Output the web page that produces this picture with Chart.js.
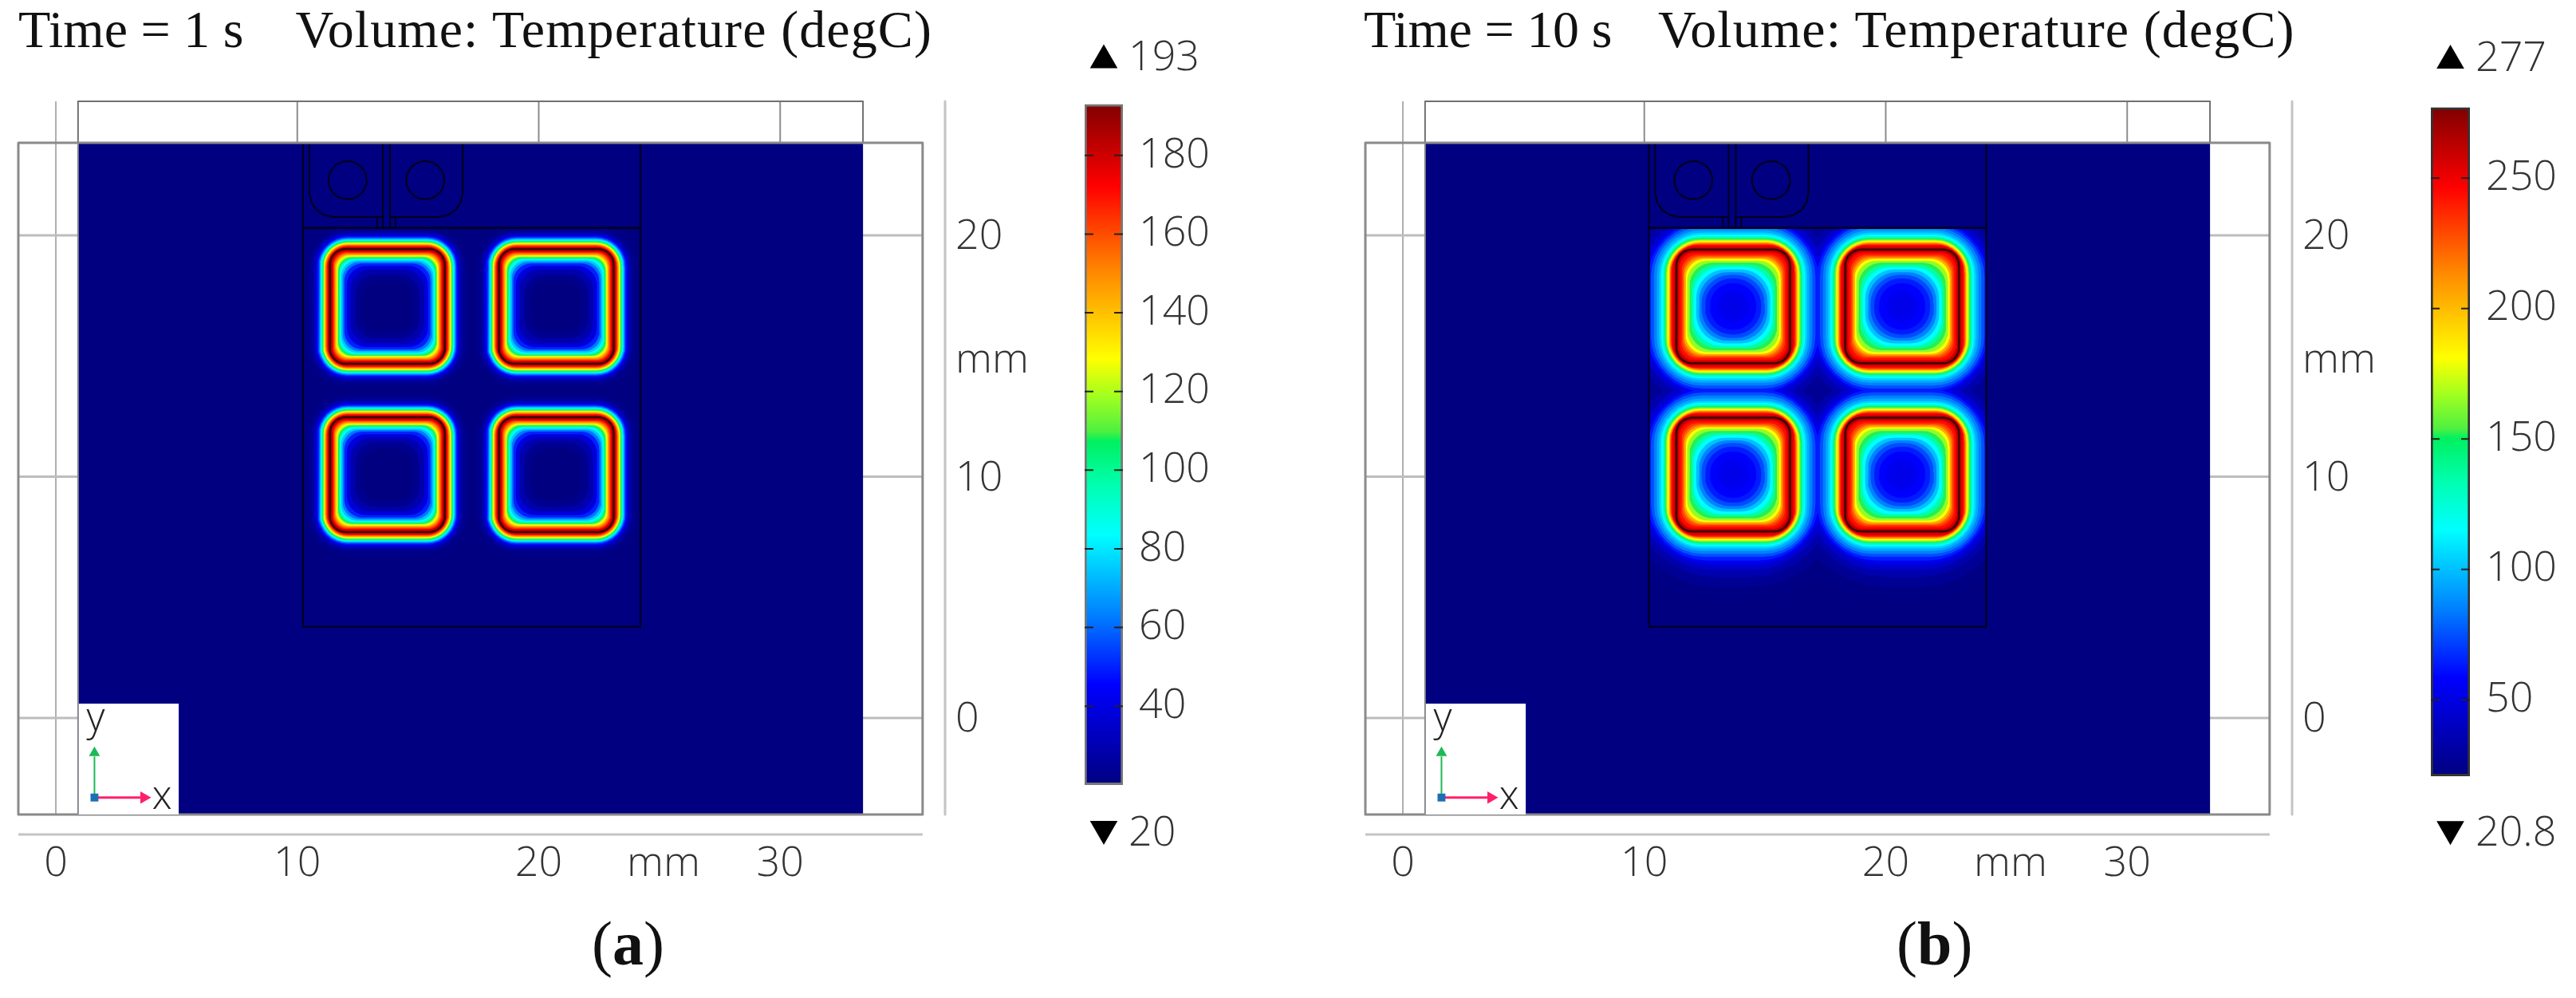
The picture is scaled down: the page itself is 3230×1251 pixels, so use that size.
<!DOCTYPE html>
<html>
<head>
<meta charset="utf-8">
<title>Temperature maps</title>
<script src="https://cdn.jsdelivr.net/npm/chart.js@4/dist/chart.umd.js"></script>
<style>
html, body { margin: 0; padding: 0; background: #fff; }
body { position: relative; width: 3230px; height: 1251px; overflow: hidden; }
canvas { position: absolute; top: 0; }
.head { position: absolute; top: 0; font: 66px "Liberation Serif", serif; color: #111; white-space: pre; line-height: 74px; }
.head span { letter-spacing: 1.1px; }
.cap { position: absolute; top: 1138px; font: 78px "Liberation Serif", serif; color: #111; line-height: 90px; }
</style>
</head>
<body>
<div class="head" style="left:23px">Time = 1 s<span style="margin-left:65px">Volume: Temperature (degC)</span></div>
<div class="head" style="left:1710px;letter-spacing:-0.4px">Time = 10 s<span style="margin-left:58px">Volume: Temperature (degC)</span></div>
<div class="cap" style="left:742px">(<b>a</b>)</div>
<div class="cap" style="left:2378px">(<b>b</b>)</div>
<canvas id="field_a" width="1330" height="1140" style="left:0"></canvas>
<canvas id="field_b" width="1330" height="1140" style="left:1689px"></canvas>
<canvas id="bar_a" width="300" height="1120" style="left:1340px"></canvas>
<canvas id="bar_b" width="202" height="1120" style="left:3028px"></canvas>
<script>
// axes of the two maps, in mm
var xTickValues = [0, 10, 20, 25.17, 30];
var xTickLabels = ['0', '10', '20', 'mm', '30'];
var yTickValues = [0, 10, 14.9, 20];
var yTickLabels = ['0', '10', 'mm', '20'];

// colour bars
var barTicksA = [40, 60, 80, 100, 120, 140, 160, 180];
var barTicksB = [50, 100, 150, 200, 250];
var rangeA = [20, 193];
var rangeB = [20.8, 277];

// colour table, position along the bar
var mapStops = [0, 0.147, 0.25, 0.368, 0.44, 0.505, 0.52, 0.57, 0.626, 0.75, 0.88, 1];
var mapColors = ['#000080', '#0000ff', '#0080ff', '#00ffff', '#00ffb0', '#00f060', '#50f040', '#a0ff20', '#ffff00', '#ff8c00', '#ff0000', '#800000'];

// coil centres, mm
var coilX = [13.73, 20.73];
var coilY = [17.05, 10.08];

// isotherms around one coil, panel a: half size (mm), corner radius (mm), degC
var outerHalfA = [3.38, 3.25, 3.12, 3.03, 2.96, 2.91, 2.86, 2.82, 2.79, 2.75, 2.72, 2.69, 2.66, 2.63, 2.60, 2.57, 2.54, 2.51, 2.47, 2.44, 2.41];
var outerRadA = [1.7, 1.6, 1.45, 1.35, 1.3, 1.25, 1.2, 1.17, 1.14, 1.1, 1.07, 1.04, 1.01, 0.98, 0.95, 0.92, 0.89, 0.86, 0.8, 0.75, 0.7];
var outerTempA = [21, 23, 27, 33, 40, 48, 58, 68, 78, 88, 98, 108, 118, 128, 138, 148, 158, 168, 178, 186, 192];
var innerHalfA = [2.38, 2.35, 2.32, 2.28, 2.25, 2.21, 2.17, 2.13, 2.10, 2.07, 2.04, 2.00, 1.96, 1.91, 1.85, 1.78, 1.68, 1.53, 1.33, 1.08];
var innerRadA = [0.65, 0.62, 0.6, 0.58, 0.56, 0.55, 0.55, 0.55, 0.55, 0.56, 0.58, 0.6, 0.62, 0.66, 0.7, 0.74, 0.8, 0.85, 0.85, 0.8];
var innerTempA = [193, 188, 182, 172, 165, 155, 145, 135, 127, 118, 108, 96, 86, 74, 62, 50, 38, 29, 23, 20];

// same for panel b
var outerHalfB = [5.16, 4.66, 4.26, 3.96, 3.71, 3.56, 3.41, 3.28, 3.16, 3.06, 2.98, 2.91, 2.85, 2.80, 2.76, 2.72, 2.68, 2.64, 2.60, 2.56, 2.52, 2.47, 2.41];
var outerRadB = [4.4, 4.0, 3.6, 3.2, 2.8, 2.5, 2.2, 2.0, 1.85, 1.75, 1.65, 1.55, 1.5, 1.45, 1.4, 1.35, 1.3, 1.25, 1.2, 1.1, 1.0, 0.9, 0.75];
var outerTempB = [22, 27, 34, 44, 54, 64, 75, 85, 95, 105, 115, 128, 142, 155, 168, 181, 195, 213, 230, 243, 250, 258, 270];
var innerHalfB = [2.36, 2.31, 2.26, 2.21, 2.14, 2.08, 2.03, 1.97, 1.90, 1.81, 1.73, 1.64, 1.53, 1.42, 1.31, 1.16, 0.96, 0.66, 0.36];
var innerRadB = [0.65, 0.65, 0.65, 0.65, 0.68, 0.72, 0.76, 0.8, 0.85, 0.95, 1.05, 1.15, 1.2, 1.2, 1.2, 1.1, 0.93, 0.65, 0.36];
var innerTempB = [277, 262, 250, 243, 232, 220, 205, 181, 165, 152, 135, 115, 100, 85, 74, 64, 58, 54, 52];

// quarter circle used for every rounded corner
var arcCos = [1, 0.981, 0.924, 0.831, 0.707, 0.556, 0.383, 0.195, 0];
var arcSin = [0, 0.195, 0.383, 0.556, 0.707, 0.831, 0.924, 0.981, 1];

// model outline, mm
var frameBox = [-1.553, 35.9, -4, 23.83];
var fieldBox = [0.92, 33.43, -4, 23.83];
var topBox = [0.92, 33.43, 23.83, 25.55];
var blockBox = [10.24, 24.21, 3.77, 20.3];
var triadBox = [0.95, 5.09, -4, 0.59];
var termLeft = [[10.5, 23.83], [10.5, 21.76], [10.57, 21.38], [10.79, 21.05], [11.12, 20.83], [11.5, 20.76], [13.54, 20.76], [13.54, 23.83]];
var termRight = [[13.84, 23.83], [13.84, 20.76], [15.85, 20.76], [16.23, 20.83], [16.56, 21.05], [16.78, 21.38], [16.85, 21.76], [16.85, 23.83]];
var stubs = [[[13.31, 20.76], [13.31, 20.3]], [[13.54, 20.76], [13.54, 20.3]], [[13.84, 20.76], [13.84, 20.3]], [[14.07, 20.76], [14.07, 20.3]]];
var holeX = [12.08, 15.3];
var holeY = 22.28;
var holeR = 0.79;

function colorAt(frac) {
    var i = 1;
    frac = Math.max(0, Math.min(1, frac));
    while (i < mapStops.length - 1 && mapStops[i] < frac) i++;
    var t = (frac - mapStops[i - 1]) / (mapStops[i] - mapStops[i - 1]);
    var a = parseInt(mapColors[i - 1].slice(1), 16);
    var b = parseInt(mapColors[i].slice(1), 16);
    var r = Math.round((a >> 16) + ((b >> 16) - (a >> 16)) * t);
    var g = Math.round(((a >> 8) & 255) + (((b >> 8) & 255) - ((a >> 8) & 255)) * t);
    var bl = Math.round((a & 255) + ((b & 255) - (a & 255)) * t);
    return 'rgb(' + r + ',' + g + ',' + bl + ')';
}

function roundedSquare(cx, cy, half, rad) {
    var pts = [], i;
    var inner = half - rad;
    for (i = 0; i < 9; i++) pts.push({x: cx + inner + rad * arcCos[i], y: cy + inner + rad * arcSin[i]});
    for (i = 0; i < 9; i++) pts.push({x: cx - inner - rad * arcSin[i], y: cy + inner + rad * arcCos[i]});
    for (i = 0; i < 9; i++) pts.push({x: cx - inner - rad * arcCos[i], y: cy - inner - rad * arcSin[i]});
    for (i = 0; i < 9; i++) pts.push({x: cx + inner + rad * arcSin[i], y: cy - inner - rad * arcCos[i]});
    pts.push(pts[0]);
    return pts;
}

function rectPts(b) {
    return [{x: b[0], y: b[2]}, {x: b[1], y: b[2]}, {x: b[1], y: b[3]}, {x: b[0], y: b[3]}, {x: b[0], y: b[2]}];
}

function toPts(list, dx) {
    return list.map(function (p) { return {x: p[0] + dx, y: p[1]}; });
}

function shape(pts, color) {
    return {type: 'scatter', showLine: true, data: pts, fill: 'shape', backgroundColor: color, borderWidth: 0, pointRadius: 0};
}

function line(pts, color, width) {
    return {type: 'scatter', showLine: true, data: pts, fill: false, borderColor: color, borderWidth: width, pointRadius: 0, borderJoinStyle: 'round', clip: false};
}

function buildField(iso, range, dx) {
    var out = [];
    var navy = '#000080';
    var i, k, n;
    var span = range[1] - range[0];

    // grid and axis lines
    out.push(line([{x: xTickValues[0], y: frameBox[2]}, {x: xTickValues[0], y: topBox[3]}], '#b0b0b0', 2));
    for (i = 1; i < xTickValues.length; i++) {
        if (xTickLabels[i] === 'mm') continue;
        out.push(line([{x: xTickValues[i], y: frameBox[3]}, {x: xTickValues[i], y: topBox[3]}], '#8c8c8c', 2));
    }
    for (i = 0; i < yTickValues.length; i++) {
        if (yTickLabels[i] === 'mm') continue;
        out.push(line([{x: frameBox[0], y: yTickValues[i]}, {x: frameBox[1], y: yTickValues[i]}], '#bdbdbd', 3));
    }
    out.push(line([{x: 36.83, y: topBox[3]}, {x: 36.83, y: -4}], '#c4c4c4', 3));
    out.push(line([{x: frameBox[0], y: -4.83}, {x: frameBox[1], y: -4.83}], '#c4c4c4', 3));
    out.push(line(rectPts(topBox), '#707070', 2));

    out.push(shape(rectPts(fieldBox), navy));

    // outer isotherms of all four coils together, coolest first
    for (i = 0; i < iso.outerHalf.length; i++) {
        for (k = 0; k < 2; k++) {
            for (n = 0; n < 2; n++) {
                out.push(shape(roundedSquare(coilX[k] + dx, coilY[n], iso.outerHalf[i], iso.outerRad[i]), colorAt((iso.outerTemp[i] - range[0]) / span)));
            }
        }
    }
    // then inside each coil, from the hot band to the core
    for (k = 0; k < 2; k++) {
        for (n = 0; n < 2; n++) {
            for (i = 0; i < iso.innerHalf.length; i++) {
                out.push(shape(roundedSquare(coilX[k] + dx, coilY[n], iso.innerHalf[i], iso.innerRad[i]), colorAt((iso.innerTemp[i] - range[0]) / span)));
            }
        }
    }

    // everything outside the block stays at ambient
    var bl = blockBox[0] + dx, br = blockBox[1] + dx, bb = blockBox[2], bt = blockBox[3];
    out.push(shape(rectPts([fieldBox[0], bl, fieldBox[2], fieldBox[3]]), navy));
    out.push(shape(rectPts([br, fieldBox[1], fieldBox[2], fieldBox[3]]), navy));
    out.push(shape(rectPts([bl, br, bt, fieldBox[3]]), navy));
    out.push(shape(rectPts([bl, br, fieldBox[2], bb]), navy));

    // dark edge in the middle of each hot band
    for (k = 0; k < 2; k++) {
        for (n = 0; n < 2; n++) {
            out.push(line(roundedSquare(coilX[k] + dx, coilY[n], iso.innerHalf[0], iso.innerRad[0]), 'rgba(25,0,0,0.75)', 2));
        }
    }

    // block, terminals
    out.push(line([{x: bl, y: frameBox[3]}, {x: bl, y: bb}, {x: br, y: bb}, {x: br, y: frameBox[3]}], '#000018', 2));
    out.push(line([{x: bl, y: bt}, {x: br, y: bt}], '#000018', 2.5));
    out.push(line(toPts(termLeft, dx), '#000018', 2));
    out.push(line(toPts(termRight, dx), '#000018', 2));
    for (i = 0; i < stubs.length; i++) out.push(line(toPts(stubs[i], dx), '#000018', 2));
    for (i = 0; i < holeX.length; i++) out.push(line(roundedSquare(holeX[i] + dx, holeY, holeR, holeR), '#000018', 2));

    out.push(line(rectPts(frameBox), '#8a8a8a', 3));
    out.push(line([{x: fieldBox[0], y: frameBox[2]}, {x: fieldBox[0], y: frameBox[3]}], '#8a8a8a', 2));

    // coordinate triad
    out.push(shape(rectPts(triadBox), '#ffffff'));
    out.push(line([{x: 1.6, y: -3.2}, {x: 1.6, y: -1.6}], '#1db954', 2));
    out.push(line([{x: 1.75, y: -3.3}, {x: 3.5, y: -3.3}], '#ff1f6b', 3));
    out.push({type: 'scatter', data: [{x: 1.6, y: -1.45}], pointStyle: 'triangle', pointRadius: 8, backgroundColor: '#1db954', borderWidth: 0});
    out.push({type: 'scatter', data: [{x: 3.65, y: -3.3}], pointStyle: 'triangle', rotation: 90, pointRadius: 9, backgroundColor: '#ff1f6b', borderWidth: 0});
    out.push({type: 'scatter', data: [{x: 1.6, y: -3.3}], pointStyle: 'rect', pointRadius: 7, backgroundColor: '#1a6fb5', borderWidth: 0});

    // the library paints index 0 last
    return out.reverse();
}

var tickFont = {family: '"Open Sans"', size: 52, weight: '300'};

// x and y letters beside the triad
var triadLetters = {
    id: 'triadLetters',
    afterDatasetsDraw: function (chart) {
        var c = chart.ctx;
        c.save();
        c.font = '300 50px "Open Sans"';
        c.fillStyle = '#222';
        c.textAlign = 'center';
        c.textBaseline = 'middle';
        c.fillText('y', chart.scales.x.getPixelForValue(1.65), chart.scales.y.getPixelForValue(-0.05));
        c.fillText('x', chart.scales.x.getPixelForValue(4.4), chart.scales.y.getPixelForValue(-3.3));
        c.restore();
    }
};

function fieldChart(id, iso, range, dx) {
    return new Chart(document.getElementById(id).getContext('2d'), {
        type: 'scatter',
        data: {datasets: buildField(iso, range, dx)},
        plugins: [triadLetters],
        options: {
            responsive: false,
            animation: false,
            events: [],
            layout: {padding: {left: 23, top: 127, right: 0, bottom: 0}},
            plugins: {legend: {display: false}, tooltip: {enabled: false}},
            scales: {
                x: {
                    type: 'linear', min: -1.553, max: 36.83,
                    grid: {display: false, drawTicks: false}, border: {display: false},
                    afterBuildTicks: function (s) { s.ticks = xTickValues.map(function (v) { return {value: v}; }); },
                    afterFit: function (s) { s.height = 94; },
                    ticks: {
                        autoSkip: false, maxRotation: 0, padding: 6, color: '#333', font: tickFont,
                        callback: function (v, i) { return xTickLabels[i]; }
                    }
                },
                y: {
                    type: 'linear', position: 'right', min: -4.83, max: 25.55,
                    grid: {display: false, drawTicks: false}, border: {display: false},
                    // labels sit a touch under their grid lines
                    afterBuildTicks: function (s) { s.ticks = yTickValues.map(function (v) { return {value: v - 0.09}; }); },
                    afterFit: function (s) { s.width = 145; },
                    ticks: {
                        autoSkip: false, padding: 13, color: '#333', font: tickFont,
                        callback: function (v, i) { return yTickLabels[i]; }
                    }
                }
            }
        }
    });
}

function barChart(id, range, ticks, axis, ends, yWidth, edge) {
    var endLabels = {
        id: 'endLabels',
        afterDatasetsDraw: function (chart) {
            var c = chart.ctx, y = chart.scales.y, area = chart.chartArea, i;
            c.save();
            // small ticks on both edges of the bar
            c.strokeStyle = '#222';
            c.lineWidth = 2;
            for (i = 0; i < ticks.length; i++) {
                var py = y.getPixelForValue(ticks[i]);
                c.beginPath();
                c.moveTo(area.left, py); c.lineTo(area.left + 11, py);
                c.moveTo(area.right - 11, py); c.lineTo(area.right, py);
                c.stroke();
            }
            c.font = tickFont.weight + ' 52px "Open Sans"';
            c.fillStyle = '#333';
            c.textBaseline = 'middle';
            for (i = 0; i < ends.length; i++) {
                c.fillText(ends[i].text, area.right + 7, y.getPixelForValue(ends[i].at));
            }
            c.restore();
        }
    };
    return new Chart(document.getElementById(id).getContext('2d'), {
        data: {
            labels: ['T'],
            datasets: [
                {type: 'line', showLine: false, data: [{x: 'T', y: ends[0].mark}], pointStyle: 'triangle', pointRadius: 20, backgroundColor: '#000', borderWidth: 0},
                {type: 'line', showLine: false, data: [{x: 'T', y: ends[1].mark}], pointStyle: 'triangle', rotation: 180, pointRadius: 20, backgroundColor: '#000', borderWidth: 0},
                {
                    type: 'bar',
                    data: [[range[0], range[1]]],
                    barPercentage: 1,
                    categoryPercentage: 1,
                    borderWidth: 3,
                    borderColor: edge,
                    borderSkipped: false,
                    backgroundColor: function (ctx) {
                        var chart = ctx.chart;
                        if (!chart.chartArea) return '#000';
                        var y = chart.scales.y;
                        var grad = chart.ctx.createLinearGradient(0, y.getPixelForValue(range[0]), 0, y.getPixelForValue(range[1]));
                        mapStops.forEach(function (s, i) { grad.addColorStop(s, mapColors[i]); });
                        return grad;
                    }
                }
            ]
        },
        plugins: [endLabels],
        options: {
            responsive: false,
            animation: false,
            events: [],
            layout: {padding: {left: 20, top: 40, right: 0, bottom: 45}},
            plugins: {legend: {display: false}, tooltip: {enabled: false}},
            scales: {
                x: {type: 'category', display: false},
                y: {
                    type: 'linear', position: 'right', min: axis[0], max: axis[1],
                    grid: {display: false, drawTicks: false}, border: {display: false},
                    afterBuildTicks: function (s) { s.ticks = ticks.map(function (v) { return {value: v}; }); },
                    afterFit: function (s) { s.width = yWidth; s.paddingTop = 0; s.paddingBottom = 0; },
                    ticks: {autoSkip: false, padding: 20, color: '#333', font: tickFont}
                }
            }
        }
    });
}

window.onload = function () {
    fieldChart('field_a', {
        outerHalf: outerHalfA, outerRad: outerRadA, outerTemp: outerTempA,
        innerHalf: innerHalfA, innerRad: innerRadA, innerTemp: innerTempA
    }, rangeA, 0);
    fieldChart('field_b', {
        outerHalf: outerHalfB, outerRad: outerRadB, outerTemp: outerTempB,
        innerHalf: innerHalfB, innerRad: innerRadB, innerTemp: innerTempB
    }, rangeB, -0.05);
    barChart('bar_a', rangeA, barTicksA, [1.5, 211.4], [{text: '193', at: 204.6, mark: 204.2}, {text: '20', at: 7.6, mark: 8.8}], 232, '#777');
    barChart('bar_b', rangeB, barTicksB, [-10.5, 306], [{text: '277', at: 295.5, mark: 295}, {text: '20.8', at: -1.4, mark: 0.4}], 133, '#333');
};
</script>
</body>
</html>
